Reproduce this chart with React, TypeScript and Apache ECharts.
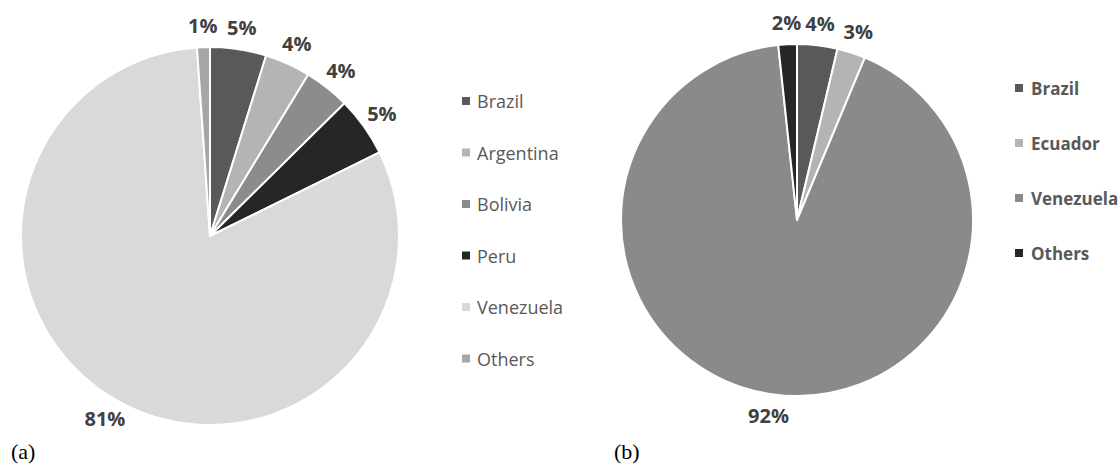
import React, { useEffect, useRef } from "react";
import * as echarts from "echarts";

const leftNames = ["Brazil", "Argentina", "Bolivia", "Peru", "Venezuela", "Others"];
const leftValues = [4.8, 3.9, 3.9, 5.1, 81.2, 1.1];
const leftColors = ["#595959", "#b4b4b4", "#8c8c8c", "#262626", "#d9d9d9", "#a6a6a6"];

const rightNames = ["Brazil", "Ecuador", "Venezuela", "Others"];
const rightValues = [3.7, 2.6, 92.0, 1.7];
const rightColors = ["#595959", "#b4b4b4", "#8a8a8a", "#262626"];

const panelLabels = ["(a)", "(b)"];

const LEFT_CENTER: [number, number] = [210, 236];
const LEFT_R = 189;
const RIGHT_CENTER: [number, number] = [797, 220];
const RIGHT_R = 176;
const LABEL_OFFSET = 22;

function midAngle(values: number[], i: number): number {
  const total = values.reduce((a, b) => a + b, 0);
  let acc = 0;
  for (let j = 0; j < i; j++) acc += values[j];
  return ((acc + values[i] / 2) / total) * Math.PI * 2;
}

function makeLabelLayout(values: number[], center: [number, number], r: number) {
  return (p: any) => {
    const a = midAngle(values, p.dataIndex);
    const R = r + LABEL_OFFSET;
    return {
      x: center[0] + R * Math.sin(a),
      y: center[1] - R * Math.cos(a),
      align: "center",
      verticalAlign: "middle",
    };
  };
}

const FONT = "'Open Sans', 'Noto Sans', sans-serif";

export default function App() {
  const ref = useRef<HTMLDivElement>(null);
  useEffect(() => {
    document.body.style.margin = "0";
    if (!ref.current) return;
    const chart = echarts.init(ref.current, undefined, { renderer: "svg" });
    const pieLabel = {
      show: true,
      position: "outside",
      formatter: (p: any) => Math.round(p.percent) + "%",
      fontFamily: FONT,
      fontWeight: "bold",
      fontSize: 20,
      color: "#404040",
    };
    chart.setOption({
      animation: false,
      backgroundColor: "#ffffff",
      legend: [
        {
          orient: "vertical",
          left: 457,
          top: 86,
          icon: "rect",
          itemWidth: 8,
          itemHeight: 8,
          itemGap: 31.5,
          selectedMode: false,
          textStyle: {
            fontFamily: FONT,
            fontSize: 18,
            color: "#595959",
            lineHeight: 20,
            padding: [0, 0, 0, 2],
          },
          data: leftNames.map((n, i) => ({
            name: n,
            itemStyle: { color: leftColors[i], borderWidth: 0 },
          })),
        },
        {
          orient: "vertical",
          left: 1010,
          top: 73,
          icon: "rect",
          itemWidth: 8,
          itemHeight: 8,
          itemGap: 35,
          selectedMode: false,
          textStyle: {
            fontFamily: FONT,
            fontSize: 17,
            fontWeight: "bold",
            color: "#595959",
            lineHeight: 20,
            padding: [0, 0, 0, 3],
          },
          data: rightNames.map((n, i) => ({
            name: n,
            itemStyle: { color: rightColors[i], borderWidth: 0 },
          })),
        },
      ],
      graphic: [
        {
          type: "text",
          left: 11,
          top: 440,
          style: { text: panelLabels[0], font: "22px 'Liberation Serif', serif", fill: "#000" },
        },
        {
          type: "text",
          left: 614,
          top: 440,
          style: { text: panelLabels[1], font: "22px 'Liberation Serif', serif", fill: "#000" },
        },
      ],
      series: [
        {
          type: "pie",
          center: LEFT_CENTER,
          radius: LEFT_R,
          startAngle: 90,
          clockwise: true,
          avoidLabelOverlap: false,
          itemStyle: { borderColor: "#ffffff", borderWidth: 2 },
          label: pieLabel,
          labelLine: { show: false },
          labelLayout: makeLabelLayout(leftValues, LEFT_CENTER, LEFT_R),
          emphasis: { disabled: true },
          data: leftNames.map((n, i) => ({
            name: n,
            value: leftValues[i],
            itemStyle: { color: leftColors[i] },
          })),
        },
        {
          type: "pie",
          center: RIGHT_CENTER,
          radius: RIGHT_R,
          startAngle: 90,
          clockwise: true,
          avoidLabelOverlap: false,
          itemStyle: { borderColor: "#ffffff", borderWidth: 2 },
          label: pieLabel,
          labelLine: { show: false },
          labelLayout: makeLabelLayout(rightValues, RIGHT_CENTER, RIGHT_R),
          emphasis: { disabled: true },
          data: rightNames.map((n, i) => ({
            name: n,
            value: rightValues[i],
            itemStyle: { color: rightColors[i] },
          })),
        },
      ],
    });
    return () => chart.dispose();
  }, []);
  return (
    <div
      ref={ref}
      style={{ position: "absolute", left: 0, top: 0, width: 1120, height: 467 }}
    />
  );
}
